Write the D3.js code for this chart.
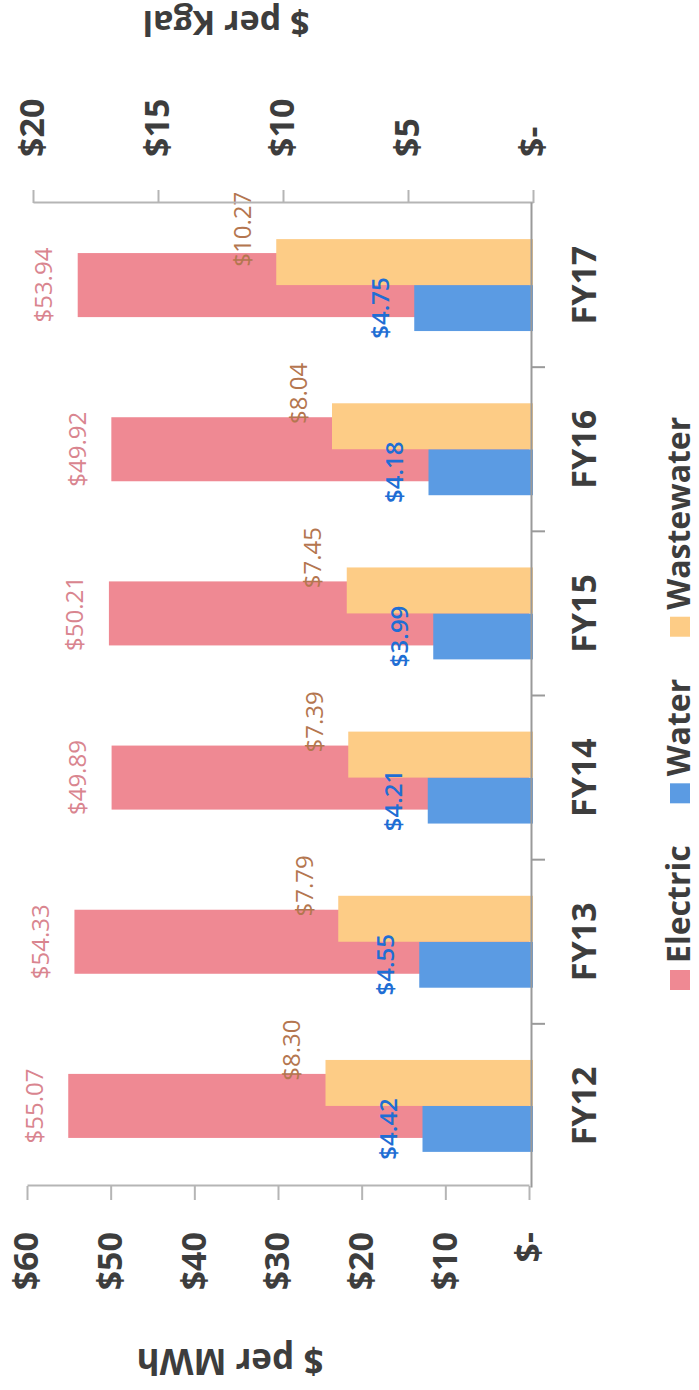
<!DOCTYPE html>
<html>
<head>
<meta charset="utf-8">
<script src="https://cdn.jsdelivr.net/npm/d3@7"></script>
<style>
  html, body { margin: 0; padding: 0; background: #ffffff; }
  svg { display: block; }
  text { font-family: "Open Sans", "Liberation Sans", sans-serif; }
</style>
</head>
<body>
<svg id="chart" width="699" height="1390"></svg>
<script>
// Utility cost per unit, fiscal years 2012-2017
const categories = ["FY12", "FY13", "FY14", "FY15", "FY16", "FY17"];
const electric   = [55.07, 54.33, 49.89, 50.21, 49.92, 53.94];   // $ per MWh
const water      = [4.42, 4.55, 4.21, 3.99, 4.18, 4.75];         // $ per Kgal
const wastewater = [8.30, 7.79, 7.39, 7.45, 8.04, 10.27];        // $ per Kgal
const mwhTicks   = [0, 10, 20, 30, 40, 50, 60];
const kgalTicks  = [0, 5, 10, 15, 20];
const seriesNames = ["Electric", "Water", "Wastewater"];

const colors = { Electric: "#ef8993", Water: "#5b9be3", Wastewater: "#fdcc86" };
const labelColors = { Electric: "#d9858f", Water: "#1f6ed4", Wastewater: "#b4764f" };
const ink = "#3d3d3d";
const axisGray = "#b5b5b5";

const money = v => v === 0 ? "$-" : "$" + v;
const money2 = v => "$" + v.toFixed(2);

// The figure is laid out as a 1390 x 699 landscape chart and then
// turned a quarter turn counter-clockwise onto the portrait page.
const svg = d3.select("#chart");
const g = svg.append("g").attr("transform", "translate(0,1390) rotate(-90)");

const x = d3.scaleBand().domain(categories).range([202, 1187]).padding(0);
const yL = d3.scaleLinear().domain([0, 60]).range([529, 27]);
const yR = d3.scaleLinear().domain([0, 20]).range([533, 33]);
const bw = x.bandwidth();
const mid = c => x(c) + bw / 2;

// Electric bars sit behind, on the primary axis
g.append("g").selectAll("rect")
  .data(categories)
  .join("rect")
  .attr("x", c => mid(c) - bw * 0.195)
  .attr("width", bw * 0.39)
  .attr("y", (c, i) => yL(electric[i]))
  .attr("height", (c, i) => yL(0) - yL(electric[i]))
  .attr("fill", colors.Electric);

// Water and wastewater bars overlay them, on the secondary axis
const sub = bw * 0.28;
g.append("g").selectAll("rect")
  .data(categories)
  .join("rect")
  .attr("x", c => mid(c) - sub)
  .attr("width", sub)
  .attr("y", (c, i) => yR(water[i]))
  .attr("height", (c, i) => yR(0) - yR(water[i]))
  .attr("fill", colors.Water);

g.append("g").selectAll("rect")
  .data(categories)
  .join("rect")
  .attr("x", c => mid(c))
  .attr("width", sub)
  .attr("y", (c, i) => yR(wastewater[i]))
  .attr("height", (c, i) => yR(0) - yR(wastewater[i]))
  .attr("fill", colors.Wastewater);

// Value labels above each bar
function valueLabels(values, scale, dxFn, color, weight) {
  g.append("g").selectAll("text")
    .data(categories)
    .join("text")
    .attr("x", c => dxFn(c))
    .attr("y", (c, i) => scale(values[i]) - 35)
    .attr("text-anchor", "middle")
    .attr("dominant-baseline", "central")
    .attr("font-size", 24)
    .attr("font-weight", weight)
    .attr("fill", color)
    .text((c, i) => money2(values[i]));
}
valueLabels(electric, yL, c => mid(c), labelColors.Electric, 400);
valueLabels(wastewater, yR, c => mid(c) + bw * 0.34, labelColors.Wastewater, 400);
valueLabels(water, yR, c => mid(c) - sub / 2, labelColors.Water, 600);

// Primary value axis ($ per MWh)
const axL = g.append("g")
  .attr("transform", "translate(204,0)")
  .call(d3.axisLeft(yL).tickValues(mwhTicks).tickFormat(money).tickSize(14).tickSizeOuter(0).tickPadding(32));
axL.select(".domain").attr("stroke", axisGray).attr("stroke-width", 2);
axL.selectAll(".tick line").attr("stroke", axisGray).attr("stroke-width", 2);
axL.selectAll(".tick text")
  .attr("font-size", 34).attr("font-weight", 700).attr("fill", ink)
  .attr("font-family", "'Open Sans', sans-serif");

// Secondary value axis ($ per Kgal)
const axR = g.append("g")
  .attr("transform", "translate(1187,0)")
  .call(d3.axisRight(yR).tickValues(kgalTicks).tickFormat(money).tickSize(13).tickSizeOuter(0).tickPadding(33));
axR.select(".domain").attr("stroke", axisGray).attr("stroke-width", 2);
axR.selectAll(".tick line").attr("stroke", axisGray).attr("stroke-width", 2);
axR.selectAll(".tick text")
  .attr("font-size", 34).attr("font-weight", 700).attr("fill", ink)
  .attr("font-family", "'Open Sans', sans-serif");

// Category axis
const axB = g.append("g")
  .attr("transform", "translate(0,531)")
  .call(d3.axisBottom(x).tickSize(0).tickSizeOuter(0).tickPadding(0));
axB.select(".domain").attr("stroke", "#9a9a9a").attr("stroke-width", 2);
axB.selectAll(".tick text")
  .attr("y", 53).attr("dy", "0.35em")
  .attr("font-size", 34).attr("font-weight", 700).attr("fill", ink)
  .attr("font-family", "'Open Sans', sans-serif");
axB.selectAll("line.sep")
  .data(categories.slice(1))
  .join("line")
  .attr("class", "sep")
  .attr("x1", c => x(c)).attr("x2", c => x(c))
  .attr("y1", 0).attr("y2", 14)
  .attr("stroke", "#9a9a9a").attr("stroke-width", 2);

// Axis titles
g.append("text")
  .attr("transform", "translate(28,230) rotate(-90)")
  .attr("text-anchor", "middle").attr("dominant-baseline", "central")
  .attr("font-size", 35).attr("font-weight", 700).attr("fill", ink)
  .text("$ per MWh");
g.append("text")
  .attr("transform", "translate(1366,226) rotate(-90)")
  .attr("text-anchor", "middle").attr("dominant-baseline", "central")
  .attr("font-size", 34).attr("font-weight", 700).attr("fill", ink)
  .text("$ per Kgal");

// Legend
const legend = g.append("g").attr("transform", "translate(400,677)");
let cursor = 0;
seriesNames.forEach(name => {
  const item = legend.append("g").attr("transform", `translate(${cursor},0)`);
  item.append("rect").attr("x", 0).attr("y", -7).attr("width", 20).attr("height", 20)
    .attr("fill", colors[name]);
  const t = item.append("text").attr("x", 27).attr("y", 0)
    .attr("dominant-baseline", "central")
    .attr("font-size", 32).attr("font-weight", 700).attr("fill", ink)
    .text(name);
  cursor += 27 + t.node().getComputedTextLength() + 42;
});
</script>
</body>
</html>
